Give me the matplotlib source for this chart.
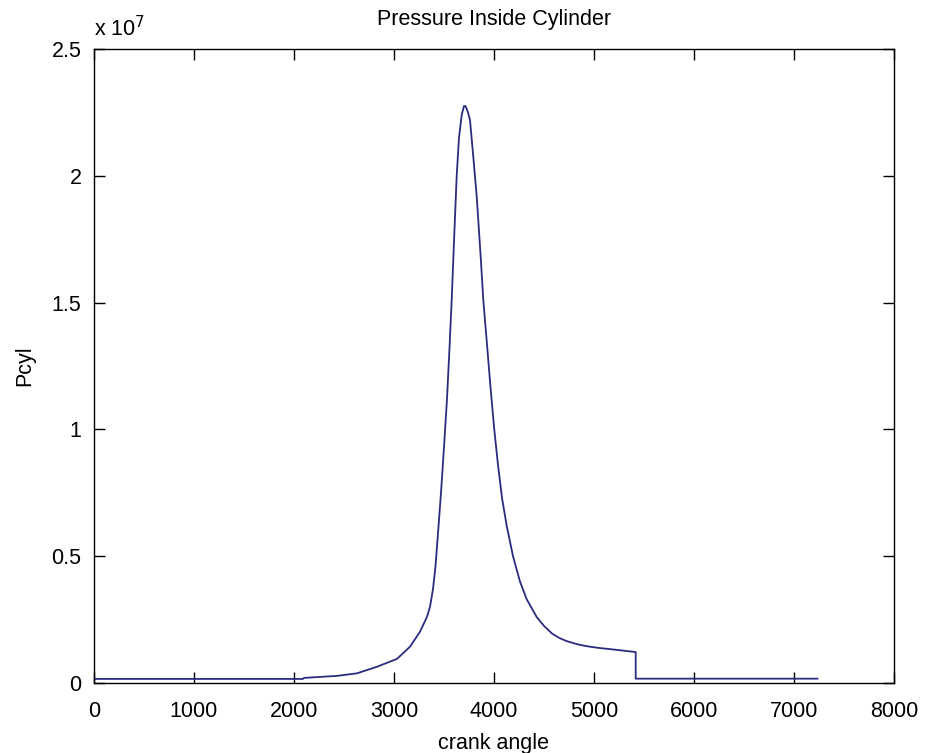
import numpy as np
import matplotlib
matplotlib.use("Agg")
import matplotlib.pyplot as plt

plt.rcParams['font.family'] = ['Liberation Sans', 'DejaVu Sans']

# values (crank angle, Pa)
crank_angle = [0, 2090, 2100, 2430, 2630, 2830, 3030, 3160, 3260, 3330, 3360,
               3390, 3415, 3440, 3470, 3500, 3530, 3555, 3577, 3600, 3627,
               3650, 3677, 3700, 3715, 3740, 3760, 3793, 3827, 3867, 3893,
               3927, 3960, 4000, 4040, 4080, 4127, 4190, 4260, 4327, 4427,
               4500, 4580, 4650, 4727, 4830, 4927, 5050, 5193, 5417, 5417,
               7235]
pcyl = [1.6e5, 1.6e5, 2.0e5, 2.8e5, 3.8e5, 6.4e5, 0.95e6, 1.43e6, 2.02e6,
        2.61e6, 3.0e6, 3.7e6, 4.6e6, 5.9e6, 7.5e6, 9.3e6, 11.2e6, 13.2e6,
        15.1e6, 17.4e6, 20.0e6, 21.5e6, 22.4e6, 22.75e6, 22.75e6, 22.5e6,
        22.2e6, 20.75e6, 19.2e6, 16.8e6, 15.1e6, 13.5e6, 11.9e6, 10.1e6,
        8.6e6, 7.3e6, 6.2e6, 5.0e6, 4.0e6, 3.3e6, 2.6e6, 2.25e6, 1.95e6,
        1.78e6, 1.65e6, 1.53e6, 1.45e6, 1.38e6, 1.32e6, 1.22e6, 1.7e5,
        1.7e5]

x_ticks = [0, 1000, 2000, 3000, 4000, 5000, 6000, 7000, 8000]
y_ticks = [0, 0.5e7, 1e7, 1.5e7, 2e7, 2.5e7]
y_tick_labels = ['0', '0.5', '1', '1.5', '2', '2.5']

fs = 15.5
fig = plt.figure(figsize=(9.25, 7.53), dpi=100)
ax = fig.add_axes([0.1016, 0.0930, 0.8649, 0.8419])
ax.plot(crank_angle, pcyl, color='#2b2b80', linewidth=1.3)

ax.set_xlim(0, 8000)
ax.set_ylim(0, 2.5e7)
ax.set_xticks(x_ticks)
ax.set_xticklabels([str(t) for t in x_ticks])
ax.set_yticks(y_ticks)
ax.set_yticklabels(y_tick_labels)
ax.tick_params(direction='in', length=8, width=1, top=True, right=True,
               labelsize=fs, colors='black', pad=9)
ax.tick_params(axis='x', pad=13)
for s in ax.spines.values():
    s.set_linewidth(1)

ax.set_title('Pressure Inside Cylinder', fontsize=fs, pad=17)
ax.set_xlabel('crank angle', fontsize=fs, labelpad=8)
ax.set_ylabel('Pcyl', fontsize=fs, labelpad=12)
ax.text(0.0, 1.012, r'x 10$^{7}$', transform=ax.transAxes, fontsize=fs,
        ha='left', va='bottom')

fig.savefig('out.png', dpi=100, facecolor='white')
